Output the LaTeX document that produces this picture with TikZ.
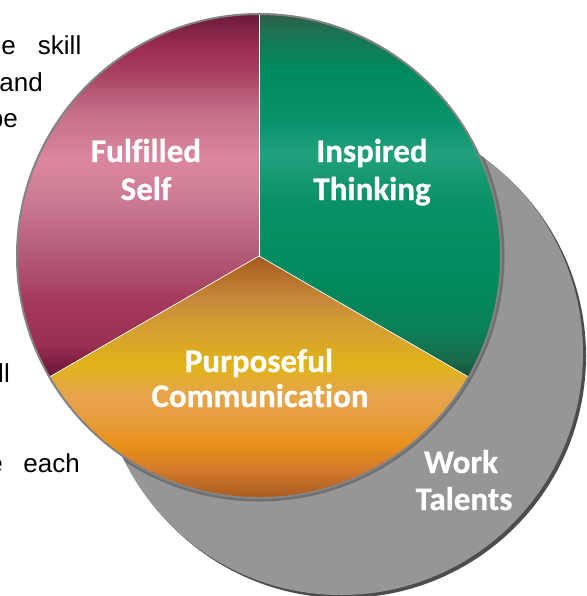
\documentclass[tikz,border=0pt]{standalone}
\usepackage{fontspec}
\setmainfont[Ligatures={NoCommon}]{Carlito}
\newfontfamily\lblfont[Ligatures={NoCommon}, FakeBold=0.6]{Carlito}
\newfontfamily\arialfont{Liberation Sans}
% Fulfilled Self (maroon/pink)
\definecolor{fsA}{HTML}{661034}
\definecolor{fsB}{HTML}{992F53}
\definecolor{fsC}{HTML}{A53A5C}
\definecolor{fsD}{HTML}{B55E7B}
\definecolor{fsE}{HTML}{CC7A93}
\definecolor{fsF}{HTML}{DA879F}
\definecolor{fsG}{HTML}{C26D87}
\definecolor{fsH}{HTML}{A63D5E}
\definecolor{fsI}{HTML}{9A2C50}
\definecolor{fsJ}{HTML}{6A1A3A}
% Inspired Thinking (green)
\definecolor{itA}{HTML}{0D4F33}
\definecolor{itB}{HTML}{1A6A4A}
\definecolor{itC}{HTML}{0A8058}
\definecolor{itD}{HTML}{008A5E}
\definecolor{itE}{HTML}{0B9167}
\definecolor{itF}{HTML}{22A07D}
\definecolor{itG}{HTML}{07926A}
\definecolor{itH}{HTML}{008A5F}
\definecolor{itI}{HTML}{1A7556}
\definecolor{itJ}{HTML}{2F5E48}
% Purposeful Communication (gold/orange)
\definecolor{pcA}{HTML}{A85A20}
\definecolor{pcB}{HTML}{D27A2C}
\definecolor{pcC}{HTML}{E8901A}
\definecolor{pcD}{HTML}{E89C3C}
\definecolor{pcE}{HTML}{E6A54C}
\definecolor{pcF}{HTML}{E0B318}
\definecolor{pcG}{HTML}{D6A030}
\definecolor{pcH}{HTML}{C88A3A}
\definecolor{pcI}{HTML}{A55A1E}
% greys
\definecolor{talentgray}{HTML}{969696}
\definecolor{shadowgray}{HTML}{4D4D4D}
\definecolor{rimgray}{HTML}{707070}
\definecolor{outlinegray}{HTML}{838383}
\pgfdeclareverticalshading{fsShade}{100bp}{color(0bp)=(fsA); color(25bp)=(fsA); color(29.53bp)=(fsB); color(35.71bp)=(fsC); color(42.58bp)=(fsD); color(49.45bp)=(fsE); color(54.95bp)=(fsF); color(61.81bp)=(fsG); color(67.31bp)=(fsH); color(70.74bp)=(fsI); color(75bp)=(fsJ); color(100bp)=(fsJ)}
\pgfdeclareverticalshading{itShade}{100bp}{color(0bp)=(itA); color(25bp)=(itA); color(27.47bp)=(itB); color(31.59bp)=(itC); color(38.46bp)=(itD); color(49.45bp)=(itE); color(55.63bp)=(itF); color(60.44bp)=(itG); color(67.31bp)=(itH); color(72.12bp)=(itI); color(75bp)=(itJ); color(100bp)=(itJ)}
\pgfdeclareverticalshading{pcShade}{100bp}{color(0bp)=(pcA); color(25bp)=(pcA); color(30.79bp)=(pcB); color(35.95bp)=(pcC); color(41.12bp)=(pcD); color(46.28bp)=(pcE); color(52.48bp)=(pcF); color(59.71bp)=(pcG); color(65.91bp)=(pcH); color(75bp)=(pcI); color(100bp)=(pcI)}
\begin{document}
\begin{tikzpicture}[x=1pt,y=1pt,
  lbl/.style={text=white, font=\lblfont\bfseries\fontsize{33}{38}\selectfont, inner sep=0pt, anchor=base},
  side/.style={text=black, font=\arialfont\fontsize{26}{30}\selectfont, inner sep=0pt, anchor=base east},
  sepline/.style={draw=white, line width=0.7pt}]
\useasboundingbox (0,0) rectangle (586,-596);
\clip (0,0) rectangle (586,-596);
\fill[white] (0,0) rectangle (586,-596);
% partly hidden paragraph text on the left
\node[side] (t1) at (16,-55) {e};
\node[side] (t2) at (81.5,-55) {skill};
\node[side] (t3) at (43,-92) {and};
\node[side] (t4) at (18,-128) {be};
\node[side] (t5) at (10,-382) {ll};
\node[side] (t6) at (3,-472) {e};
\node[side] (t7) at (80,-472) {each};
% Work Talents circle
\coordinate (G) at (341,-353);
\coordinate (C) at (259,-256);
\fill[shadowgray] (344,-356) circle[radius=242];
\fill[talentgray] (G) circle[radius=242];
\begin{scope}
  \clip (G) circle[radius=242];
  \draw[line width=7pt, rimgray] (C) circle[radius=242];
\end{scope}
% sectors
\coordinate (T) at (259,-14);
\coordinate (LL) at (49.42,-377);
\coordinate (LR) at (468.58,-377);
\begin{scope}
  \clip (C) -- (T) arc[start angle=90, end angle=210, radius=242] -- cycle;
  \shade[shading=fsShade] (10,-14) rectangle (262,-378);
\end{scope}
\begin{scope}
  \clip (C) -- (T) arc[start angle=90, end angle=-30, radius=242] -- cycle;
  \shade[shading=itShade] (256,-14) rectangle (505,-378);
\end{scope}
\begin{scope}
  \clip (C) -- (LR) arc[start angle=-30, end angle=-150, radius=242] -- cycle;
  \shade[shading=pcShade] (40,-256) rectangle (480,-498);
\end{scope}
\draw[sepline] (C) -- (T);
\draw[sepline] (C) -- (LL);
\draw[sepline] (C) -- (LR);
\draw[line width=2pt, outlinegray] (C) circle[radius=242];
% labels
\node[lbl] (fs1) at (146,-162) {Fulfilled};
\node[lbl] (fs2) at (146,-200) {Self};
\node[lbl] (it1) at (372,-162) {Inspired};
\node[lbl] (it2) at (372,-200) {Thinking};
\node[lbl] (pc1) at (259,-372) {Purposeful};
\node[lbl] (pc2) at (260,-407) {Communication};
\node[lbl] (wt1) at (461,-473) {Work};
\node[lbl] (wt2) at (464,-510) {Talents};
\end{tikzpicture}
\end{document}
